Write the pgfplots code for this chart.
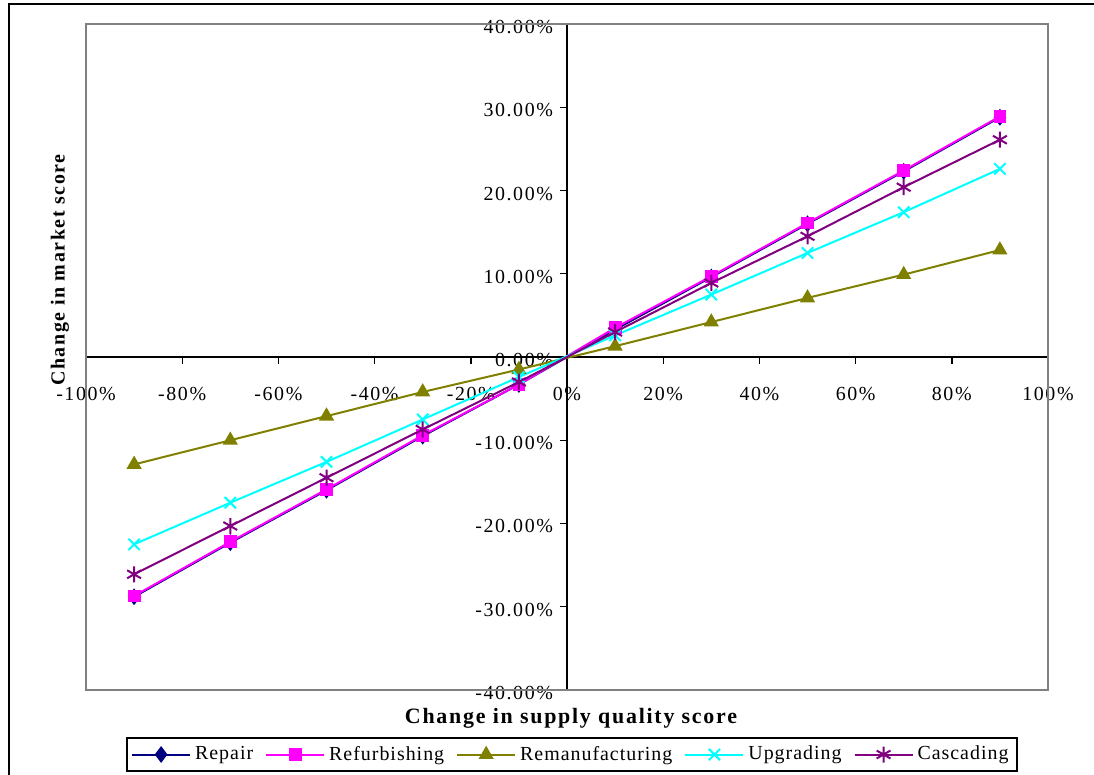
\documentclass[border=0pt]{standalone}
\usepackage{fontspec}
\setmainfont{Liberation Serif}[LetterSpace=8]
\usepackage{pgfplots}
\pgfplotsset{compat=1.18}
\definecolor{cRepair}{RGB}{0,0,128}
\definecolor{cRefurb}{RGB}{255,0,255}
\definecolor{cReman}{RGB}{128,128,0}
\definecolor{cUpg}{RGB}{0,255,255}
\definecolor{cCasc}{RGB}{128,0,128}
\definecolor{cBox}{RGB}{128,128,128}
\begin{document}
\begin{tikzpicture}
\useasboundingbox (0,0) rectangle (547bp,-387.5bp);
\draw[black, line width=1bp] (4.5bp,-400bp) -- (4.5bp,-2bp) -- (560bp,-2bp);
\begin{axis}[
  at={(43bp,-345bp)}, anchor=south west,
  scale only axis, width=481bp, height=333bp,
  xmin=-100, xmax=100, ymin=-40, ymax=40,
  axis lines=middle,
  axis line style={black, line width=0.7bp, -},
  xtick={-100,-80,...,100}, ytick={-40,-30,...,40},
  hide obscured x ticks=false, hide obscured y ticks=false,
  /pgf/number format/assume math mode=true,
  xticklabel={\pgfmathprintnumber[fixed,precision=0]{\tick}\%},
  yticklabel={\pgfmathprintnumber[fixed,fixed zerofill,precision=2]{\tick}\%},
  tick style={black, line width=0.7bp},
  major tick length=3.5bp,
  tick align=outside,
  xticklabel style={anchor=center, yshift=-15bp, font=\fontsize{10}{12}\selectfont},
  yticklabel style={anchor=east, yshift=-1.5bp, font=\fontsize{10}{12}\selectfont},
  every axis plot/.append style={line width=1bp},
  legend columns=5,
  legend style={at={(0.505,-0.0706)}, anchor=north, draw=black, line width=1bp,
    font=\fontsize{10}{12}\selectfont\addfontfeatures{LetterSpace=5}, inner sep=2bp,
    /tikz/every even column/.append style={column sep=4bp}},
  legend image code/.code={\draw[mark repeat=2,mark phase=2] plot coordinates {(0bp,0bp)(14.5bp,0bp)(29bp,0bp)};},
  clip=false,
]
\draw[cBox, line width=1bp] (rel axis cs:0,0) rectangle (rel axis cs:1,1);
\addplot[cRepair, mark=diamond*, mark size=3.4bp, mark options={solid, fill=cRepair}] coordinates {
(-90,-28.8) (-70,-22.3) (-50,-16.0) (-30,-9.5) (-10,-3.3) (10,3.3) (30,9.6) (50,16.0) (70,22.3) (90,28.8)};
\addlegendentry{Repair}
\addplot[cRefurb, mark=square*, mark size=2.7bp, mark options={solid, fill=cRefurb}] coordinates {
(-90,-28.7) (-70,-22.2) (-50,-15.9) (-30,-9.4) (-10,-3.3) (10,3.5) (30,9.7) (50,16.1) (70,22.4) (90,28.9)};
\addlegendentry{Refurbishing}
\addplot[cReman, mark=triangle*, mark size=3.4bp, mark options={solid, fill=cReman}] coordinates {
(-90,-12.9) (-70,-10.0) (-50,-7.1) (-30,-4.2) (-10,-1.5) (10,1.3) (30,4.2) (50,7.1) (70,9.9) (90,12.85)};
\addlegendentry{Remanufacturing}
\addplot[cUpg, mark=x, mark size=4bp, mark options={solid}] coordinates {
(-90,-22.5) (-70,-17.5) (-50,-12.6) (-30,-7.5) (-10,-2.4) (10,2.6) (30,7.5) (50,12.5) (70,17.4) (90,22.6)};
\addlegendentry{Upgrading}
\addplot[cCasc, mark=asterisk, mark size=4bp, mark options={solid}] coordinates {
(-90,-26.1) (-70,-20.3) (-50,-14.5) (-30,-8.7) (-10,-3.0) (10,3.0) (30,8.9) (50,14.5) (70,20.4) (90,26.1)};
\addlegendentry{Cascading}
\end{axis}
\node[rotate=90, font=\fontsize{10}{12}\selectfont\bfseries] at (30bp,-135bp) {Change in market score};
\node[font=\fontsize{11}{13}\selectfont\bfseries] at (285.5bp,-359bp) {Change in supply quality score};
\end{tikzpicture}
\end{document}
